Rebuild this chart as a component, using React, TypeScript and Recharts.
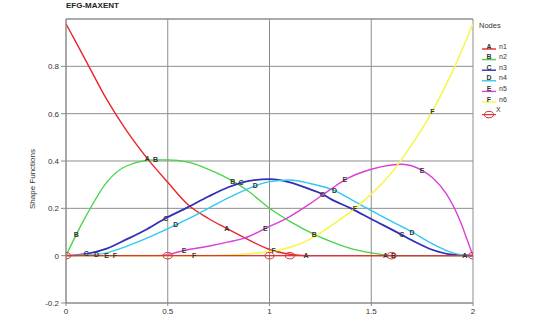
import React from 'react';
import { LineChart, Line, XAxis, YAxis, CartesianGrid, ReferenceLine } from 'recharts';

const titleText = 'EFG-MAXENT';
const yLabel = 'Shape Functions';
const legendTitle = 'Nodes';
const xTicks = [0, 0.5, 1, 1.5, 2];
const yTicks = [-0.2, 0, 0.2, 0.4, 0.6, 0.8];

const n1Points: [number, number][] = [
  [0, 0.98], [0.05, 0.9], [0.1, 0.82], [0.2, 0.66], [0.3, 0.525], [0.4, 0.41], [0.5, 0.31],
  [0.6, 0.215], [0.7, 0.157], [0.79, 0.115], [0.9, 0.066], [1.0, 0.026], [1.1, 0.006],
  [1.18, 0], [1.3, 0], [1.57, 0], [1.8, 0], [1.96, 0], [2.0, 0],
];
const n2Points: [number, number][] = [
  [0, 0], [0.05, 0.088], [0.1, 0.17], [0.2, 0.31], [0.3, 0.38], [0.44, 0.405], [0.5, 0.405],
  [0.6, 0.395], [0.7, 0.365], [0.82, 0.315], [0.9, 0.27], [1.0, 0.2], [1.1, 0.145],
  [1.22, 0.09], [1.3, 0.06], [1.4, 0.03], [1.5, 0.012], [1.61, 0], [1.8, 0], [2.0, 0],
];
const n3Points: [number, number][] = [
  [0, 0], [0.1, 0.008], [0.2, 0.03], [0.3, 0.07], [0.4, 0.113], [0.49, 0.158], [0.6, 0.205],
  [0.7, 0.25], [0.8, 0.29], [0.86, 0.308], [0.9, 0.316], [1.0, 0.323], [1.1, 0.31],
  [1.2, 0.28], [1.26, 0.26], [1.3, 0.24], [1.4, 0.2], [1.5, 0.155], [1.65, 0.088],
  [1.7, 0.065], [1.8, 0.025], [1.9, 0.004], [2.0, 0],
];
const n4Points: [number, number][] = [
  [0, 0], [0.15, 0.005], [0.2, 0.012], [0.3, 0.04], [0.4, 0.075], [0.54, 0.13], [0.6, 0.155],
  [0.7, 0.2], [0.8, 0.245], [0.93, 0.295], [1.0, 0.313], [1.1, 0.32], [1.2, 0.305],
  [1.32, 0.275], [1.4, 0.238], [1.5, 0.19], [1.6, 0.145], [1.7, 0.1], [1.8, 0.05],
  [1.9, 0.012], [2.0, 0],
];
const n5Points: [number, number][] = [
  [0, 0], [0.2, 0], [0.45, 0], [0.5, 0.005], [0.58, 0.022], [0.7, 0.04], [0.8, 0.058],
  [0.88, 0.075], [0.98, 0.115], [1.1, 0.165], [1.2, 0.22], [1.3, 0.28], [1.37, 0.32],
  [1.5, 0.365], [1.6, 0.383], [1.65, 0.386], [1.75, 0.36], [1.8, 0.33], [1.87, 0.26],
  [1.94, 0.14], [1.97, 0.07], [2.0, 0],
];
const n6Points: [number, number][] = [
  [0, 0], [0.24, 0], [0.63, 0], [0.8, 0.003], [0.9, 0.008], [1.02, 0.02], [1.1, 0.035],
  [1.2, 0.07], [1.3, 0.125], [1.42, 0.2], [1.5, 0.26], [1.6, 0.35], [1.7, 0.47],
  [1.8, 0.61], [1.9, 0.78], [2.0, 0.98],
];
const nodeXs = [0, 0.5, 1.0, 1.1, 1.6, 2.0];

const n1Marks = [0.4, 0.79, 1.18, 1.57, 1.96];
const n2Marks = [0.05, 0.44, 0.82, 1.22, 1.61];
const n3Marks = [0.1, 0.49, 0.86, 1.26, 1.65];
const n4Marks = [0.15, 0.54, 0.93, 1.32, 1.7];
const n5Marks = [0.2, 0.58, 0.98, 1.37, 1.75];
const n6Marks = [0.24, 0.63, 1.02, 1.42, 1.8];

const series = [
  { name: 'n1', letter: 'A', color: '#e8262a', width: 1.4, points: n1Points, marks: n1Marks },
  { name: 'n2', letter: 'B', color: '#44d444', width: 1.3, points: n2Points, marks: n2Marks },
  { name: 'n3', letter: 'C', color: '#3030b8', width: 1.8, points: n3Points, marks: n3Marks },
  { name: 'n4', letter: 'D', color: '#30c8f0', width: 1.4, points: n4Points, marks: n4Marks },
  { name: 'n5', letter: 'E', color: '#d840d8', width: 1.4, points: n5Points, marks: n5Marks },
  { name: 'n6', letter: 'F', color: '#f6f650', width: 1.6, points: n6Points, marks: n6Marks },
];
const nodeColor = '#d83838';

const font = '"Liberation Sans", Arial, sans-serif';

function makeLetterDot(letter: string) {
  return (props: any) => {
    const { cx, cy, payload, index } = props;
    if (!payload || !payload.mark || cx == null || cy == null) return <g key={`d${index}`} />;
    return (
      <text key={`d${index}`} x={cx} y={cy + 2.5} textAnchor="middle" fontSize={7}
        fontFamily={font} fontWeight="bold" fill="#333">{letter}</text>
    );
  };
}

const nodeDot = (props: any) => {
  const { cx, cy, index } = props;
  if (cx == null || cy == null) return <g key={`n${index}`} />;
  return <ellipse key={`n${index}`} cx={cx} cy={cy} rx={4.5} ry={3.2} fill="none" stroke={nodeColor} strokeWidth={1} />;
};

export default function App() {
  const nodeData = nodeXs.map((x) => ({ x, y: 0 }));
  return (
    <div style={{ position: 'absolute', left: 0, top: 0, width: 544, height: 320, background: '#fff', fontFamily: font }}>
      <LineChart width={544} height={320} margin={{ top: 19, right: 71, bottom: 0, left: 30 }}>
        <CartesianGrid stroke="#8e8e8e" strokeWidth={1} />
        <ReferenceLine y={1} stroke="#8e8e8e" strokeWidth={1} />
        <XAxis type="number" dataKey="x" domain={[0, 2]} ticks={xTicks} height={17} tickSize={3}
          stroke="#8a8a8a" tick={{ fontSize: 8, fill: '#333', fontFamily: font }} allowDataOverflow />
        <YAxis type="number" dataKey="y" domain={[-0.2, 1]} ticks={yTicks} width={36} tickSize={5}
          stroke="#8a8a8a" tick={{ fontSize: 8, fill: '#333', fontFamily: font }} allowDataOverflow
          label={{ value: yLabel, angle: -90, position: 'insideLeft', offset: 0, dx: 2, dy: 18, style: { fontSize: 8, fill: '#333', fontFamily: font, textAnchor: 'middle' } }} />
        {series.map((s) => (
          <Line key={s.name} name={s.name} data={s.points.map(([x, y]) => ({ x, y, mark: s.marks.includes(x) }))}
            dataKey="y" type="monotone" stroke={s.color} strokeWidth={s.width}
            dot={makeLetterDot(s.letter)} activeDot={false} isAnimationActive={false} />
        ))}
        <Line name="X" data={nodeData} dataKey="y" type="linear" stroke={nodeColor} strokeWidth={1.3}
          dot={nodeDot} activeDot={false} isAnimationActive={false} />
      </LineChart>
      <div style={{ position: 'absolute', left: 66, top: 1, fontSize: 8, fontWeight: 'bold', color: '#222', fontFamily: font }}>{titleText}</div>
      <svg style={{ position: 'absolute', left: 474, top: 15 }} width={70} height={120}>
        <text x={5} y={13} fontSize={7.5} fill="#333" fontFamily={font}>{legendTitle}</text>
        {series.map((s, i) => {
          const y = 34 + i * 10.6;
          return (
            <g key={s.name}>
              <line x1={8} x2={22} y1={y} y2={y} stroke={s.color} strokeWidth={1.4} />
              <text x={15} y={y - 0.5} textAnchor="middle" fontSize={7} fontWeight="bold" fill="#333" fontFamily={font}>{s.letter}</text>
              <text x={25} y={y - 0.5} fontSize={7} fill="#333" fontFamily={font}>{s.name}</text>
            </g>
          );
        })}
        <g>
          <line x1={8} x2={22} y1={34 + 6 * 10.6 + 2} y2={34 + 6 * 10.6 + 2} stroke={nodeColor} strokeWidth={1.2} />
          <ellipse cx={15} cy={34 + 6 * 10.6 + 2} rx={4.5} ry={3.2} fill="none" stroke={nodeColor} strokeWidth={1} />
          <text x={22} y={34 + 6 * 10.6 - 1} fontSize={7} fill="#333" fontFamily={font}>X</text>
        </g>
      </svg>
    </div>
  );
}
